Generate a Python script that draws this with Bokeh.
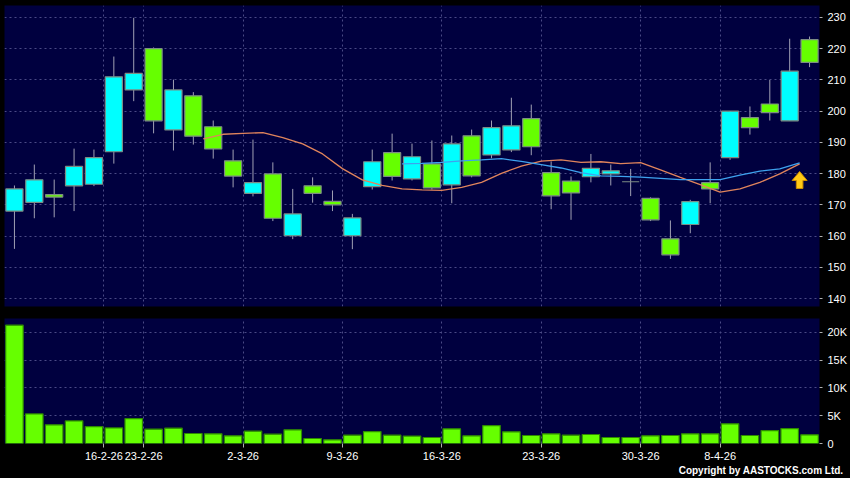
from bokeh.plotting import figure
from bokeh.layouts import column
from bokeh.models import (FixedTicker, Range1d, Title,
                          ColumnDataSource, GlobalInlineStyleSheet)
from bokeh.embed import file_html
from bokeh.resources import INLINE

# ---------------- data ----------------
dates = ["9-2-26", "10-2-26", "11-2-26", "12-2-26", "13-2-26", "16-2-26", "20-2-26",
         "23-2-26", "24-2-26", "25-2-26", "26-2-26", "27-2-26",
         "2-3-26", "3-3-26", "4-3-26", "5-3-26", "6-3-26",
         "9-3-26", "10-3-26", "11-3-26", "12-3-26", "13-3-26",
         "16-3-26", "17-3-26", "18-3-26", "19-3-26", "20-3-26",
         "23-3-26", "24-3-26", "25-3-26", "26-3-26", "27-3-26",
         "30-3-26", "31-3-26", "1-4-26", "2-4-26",
         "8-4-26", "9-4-26", "10-4-26", "13-4-26", "14-4-26"]

opens = [168.0, 170.8, 173.3, 176.1, 176.6, 187.0, 206.8, 220.0, 194.0, 204.9,
         195.0, 184.1, 173.7, 179.9, 160.1, 176.1, 171.1, 160.1, 175.8, 186.7,
         178.3, 183.1, 176.4, 192.1, 186.0, 187.6, 197.6, 180.3, 177.6, 179.0,
         179.9, 177.4, 172.1, 159.1, 163.7, 177.1, 185.1, 197.9, 202.3, 196.9,
         222.9]
highs = [176.2, 182.9, 178.1, 188.0, 187.7, 217.5, 229.9, 220.4, 210.1, 206.1,
         197.0, 187.7, 190.9, 183.6, 175.1, 178.8, 174.6, 167.1, 187.7, 192.8,
         189.6, 190.6, 192.2, 194.1, 197.0, 204.3, 202.1, 183.9, 179.1, 186.3,
         182.9, 181.5, 172.4, 165.0, 171.6, 183.6, 200.0, 201.5, 210.0, 223.2,
         223.9]
lows = [155.9, 165.7, 166.0, 168.0, 176.0, 183.2, 203.2, 192.9, 187.4, 189.3,
        184.8, 175.6, 172.7, 164.8, 159.0, 170.7, 168.0, 155.8, 174.9, 177.8,
        177.8, 174.9, 170.5, 178.8, 184.9, 186.9, 185.9, 168.6, 165.2, 177.2,
        176.2, 172.8, 164.8, 152.7, 160.9, 170.5, 184.4, 192.5, 197.0, 196.9,
        214.1]
closes = [175.1, 178.0, 172.5, 182.3, 185.1, 211.0, 212.1, 196.9, 206.8, 192.0,
          187.9, 179.2, 177.1, 165.7, 167.1, 173.7, 170.0, 165.8, 183.8, 179.1,
          185.4, 175.4, 189.5, 179.3, 194.7, 195.3, 188.6, 172.9, 173.8, 181.7,
          180.9, 177.4, 165.2, 154.0, 171.0, 175.1, 200.0, 194.7, 199.5, 212.8,
          215.6]
volumes = [21300, 5330, 3360, 4070, 3050, 2800, 4490, 2580, 2760, 1800,
           1740, 1380, 2220, 1680, 2460, 900, 660, 1500, 2150, 1500,
           1330, 1080, 2640, 1380, 3230, 2100, 1440, 1740, 1500, 1620,
           1080, 1080, 1380, 1440, 1740, 1740, 3540, 1440, 2330, 2690,
           1560]

# 10-day average (orange), for dates[9] .. dates[39]
ma10 = [191.1, 192.6, 192.9, 193.1, 191.5, 189.5, 186.3, 181.6, 178.0, 176.2,
        175.1, 174.8, 174.6, 175.6, 177.2, 180.1, 182.4, 184.0, 184.4, 183.6,
        183.8, 183.2, 183.5, 181.2, 178.8, 176.5, 174.1, 175.1, 177.2, 179.9,
        183.1]
# 20-day average (blue), for dates[19] .. dates[39]
ma20 = [183.1, 183.3, 183.6, 184.1, 184.4, 184.8, 183.9, 182.9, 181.8, 180.3,
        179.3, 179.1, 178.9, 178.5, 178.1, 178.1, 178.1, 179.5, 180.8, 181.5,
        183.4]

tick_labels = ["16-2-26", "23-2-26", "2-3-26", "9-3-26", "16-3-26",
               "23-3-26", "30-3-26", "8-4-26"]
price_ticks = [140, 150, 160, 170, 180, 190, 200, 210, 220, 230]
vol_ticks = [0, 5000, 10000, 15000, 20000]
vol_tick_labels = ["0", "5K", "10K", "15K", "20K"]

# ---------------- styling ----------------
NAVY = "#00003f"
GRID = "#4a4a86"
CYAN = "#00ffff"
GREEN = "#66ff00"
FONT = "Liberation Sans"

W, H1, H2 = 850, 312, 166
BL, BR, BT1, BB1, BT2, BB2 = 4, 31, 5, 6, 6, 35
Y1 = (137.44, 233.84)

idx = list(range(len(dates)))
colors = [CYAN if c > o else (GREEN if c < o else "#c8c8c8") for o, c in zip(opens, closes)]
src = ColumnDataSource(dict(x=idx, open=opens, high=highs, low=lows, close=closes,
                            top=[max(o, c) for o, c in zip(opens, closes)],
                            bottom=[min(o, c) for o, c in zip(opens, closes)],
                            color=colors, vol=volumes))

xticks = [dates.index(t) - 0.5 for t in tick_labels]
x_range = Range1d(-0.5, len(dates) - 0.5)

p1 = figure(width=W, height=H1, x_range=x_range, y_range=Range1d(*Y1),
            y_axis_location="right", x_axis_location=None,
            output_backend="svg", toolbar_location=None,
            min_border_left=BL, min_border_right=BR, min_border_top=BT1, min_border_bottom=BB1)
p2 = figure(width=W, height=H2, x_range=x_range, y_range=Range1d(0, 22500),
            y_axis_location="right",
            output_backend="svg", toolbar_location=None,
            min_border_left=BL, min_border_right=BR, min_border_top=BT2, min_border_bottom=BB2)

for p in (p1, p2):
    p.background_fill_color = NAVY
    p.border_fill_color = "black"
    p.outline_line_color = None
    p.xgrid.ticker = FixedTicker(ticks=xticks)
    for g in (p.xgrid, p.ygrid):
        g.grid_line_color = GRID
        g.grid_line_dash = "2 3"
        g.grid_line_width = 1
    ax = p.yaxis[0]
    ax.axis_line_color = None
    ax.major_tick_line_color = "#b0b0b0"
    ax.major_tick_in = 0
    ax.major_tick_out = 3
    ax.minor_tick_line_color = None
    ax.major_label_text_color = "white"
    ax.major_label_text_font = FONT
    ax.major_label_text_font_size = "11px"
    ax.major_label_standoff = 5

p1.yaxis.ticker = FixedTicker(ticks=price_ticks)
p1.ygrid.ticker = FixedTicker(ticks=price_ticks)
p2.yaxis.ticker = FixedTicker(ticks=vol_ticks)
p2.ygrid.ticker = FixedTicker(ticks=vol_ticks[1:])
p2.yaxis.major_label_overrides = {t: l for t, l in zip(vol_ticks, vol_tick_labels)}

xa = p2.xaxis[0]
xa.ticker = FixedTicker(ticks=xticks)
xa.major_label_overrides = {t: l for t, l in zip(xticks, tick_labels)}
xa.axis_line_color = None
xa.major_tick_line_color = "#b0b0b0"
xa.major_tick_in = 0
xa.major_tick_out = 4
xa.minor_tick_line_color = None
xa.major_label_text_color = "white"
xa.major_label_text_font = FONT
xa.major_label_text_font_size = "11px"
xa.major_label_standoff = 4

# candles
p1.segment(x0="x", y0="high", x1="x", y1="low", source=src, line_color="#a0a0b4", line_width=1)
p1.vbar(x="x", top="top", bottom="bottom", width=0.86, source=src,
        fill_color="color", line_color="#7c8c84", line_width=1.2)

# moving averages
p1.line([i + 0.5 for i in range(9, 9 + len(ma10))], ma10, line_color="#e0845c", line_width=1.3)
p1.line([i + 0.5 for i in range(19, 19 + len(ma20))], ma20, line_color="#3ea2ee", line_width=1.3)

# block arrow marker just under the last average point (shape in pixels -> data units)
ux = len(dates) / (W - BL - BR)          # data units per pixel, x
uy = (Y1[1] - Y1[0]) / (H1 - BT1 - BB1)  # data units per pixel, y
xe = 19 + len(ma20) - 1 + 0.5
ye = ma20[-1]
shape_px = [(0, -8.5), (7.5, -17.5), (3.3, -17.5), (3.3, -25.5),
            (-3.3, -25.5), (-3.3, -17.5), (-7.5, -17.5)]
p1.patch([xe + dx * ux for dx, dy in shape_px], [ye + dy * uy for dx, dy in shape_px],
         fill_color="#ffc814", line_color="#c98a00", line_width=1)

# volume
p2.vbar(x="x", top="vol", bottom=0, width=0.88, source=src,
        fill_color=GREEN, line_color="#2e8a00", line_width=1.2)

p2.add_layout(Title(text="Copyright by AASTOCKS.com Ltd.", align="right", offset=-24,
                    text_color="white", text_font=FONT, text_font_size="10px",
                    text_font_style="bold", standoff=0), "below")

layout = column(p1, p2, spacing=0)
layout.stylesheets = [GlobalInlineStyleSheet(css="html,body{margin:0;padding:0;background:#000;overflow:hidden;}")]

open("out.html", "w").write(file_html(layout, INLINE))
